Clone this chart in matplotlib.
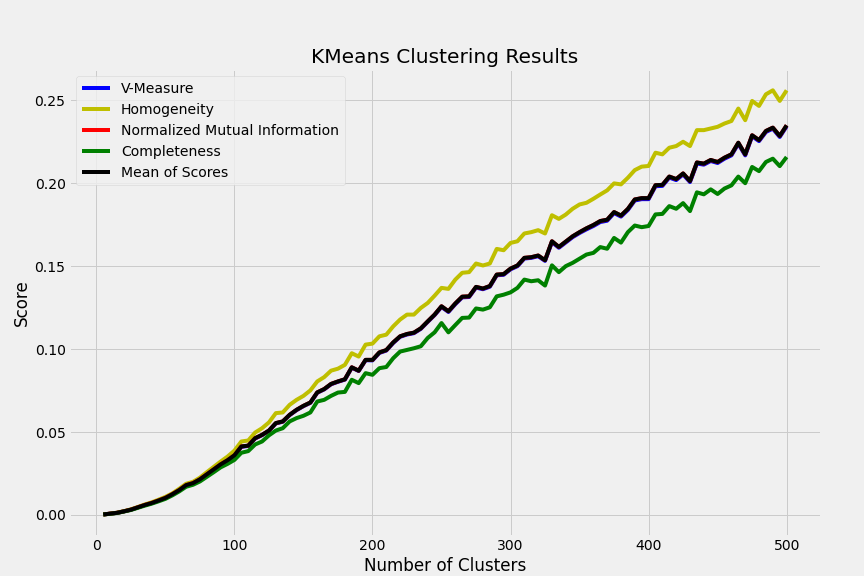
import matplotlib
matplotlib.use("Agg")
import matplotlib.pyplot as plt

# Number of clusters tried (5, 10, ..., 500)
n_clusters = list(range(5, 505, 5))

homogeneity = [
    0.0003, 0.0008, 0.0014, 0.0023, 0.0034, 0.0048, 0.0063, 0.0076, 0.0092, 0.0109,
    0.0130, 0.0158, 0.0188, 0.0200, 0.0225, 0.0258, 0.0290, 0.0322, 0.0352, 0.0388,
    0.0443, 0.0449, 0.0497, 0.0523, 0.0558, 0.0614, 0.0618, 0.0664, 0.0694, 0.0718,
    0.0751, 0.0805, 0.0831, 0.0870, 0.0882, 0.0905, 0.0975, 0.0955, 0.1027, 0.1033,
    0.1077, 0.1087, 0.1137, 0.1178, 0.1208, 0.1208, 0.1248, 0.1278, 0.1322, 0.1369,
    0.1363, 0.1419, 0.1460, 0.1464, 0.1516, 0.1504, 0.1516, 0.1604, 0.1596, 0.1640,
    0.1650, 0.1697, 0.1705, 0.1717, 0.1697, 0.1807, 0.1785, 0.1811, 0.1846, 0.1872,
    0.1882, 0.1906, 0.1932, 0.1957, 0.1999, 0.1993, 0.2033, 0.2079, 0.2100, 0.2104,
    0.2184, 0.2174, 0.2214, 0.2224, 0.2250, 0.2224, 0.2320, 0.2320, 0.2330, 0.2340,
    0.2360, 0.2375, 0.2450, 0.2380, 0.2496, 0.2466, 0.2536, 0.2560, 0.2496, 0.2560,
]

completeness = [
    0.0003, 0.0007, 0.0012, 0.0021, 0.0030, 0.0043, 0.0056, 0.0068, 0.0082, 0.0097,
    0.0118, 0.0142, 0.0170, 0.0182, 0.0202, 0.0230, 0.0258, 0.0287, 0.0308, 0.0332,
    0.0375, 0.0385, 0.0425, 0.0443, 0.0480, 0.0509, 0.0523, 0.0564, 0.0584, 0.0598,
    0.0618, 0.0684, 0.0694, 0.0718, 0.0738, 0.0742, 0.0815, 0.0795, 0.0855, 0.0845,
    0.0885, 0.0892, 0.0945, 0.0985, 0.0995, 0.1005, 0.1017, 0.1067, 0.1101, 0.1157,
    0.1101, 0.1145, 0.1188, 0.1190, 0.1245, 0.1238, 0.1252, 0.1318, 0.1328, 0.1342,
    0.1369, 0.1419, 0.1409, 0.1415, 0.1383, 0.1505, 0.1464, 0.1500, 0.1520, 0.1545,
    0.1570, 0.1580, 0.1615, 0.1605, 0.1670, 0.1642, 0.1705, 0.1745, 0.1735, 0.1742,
    0.1812, 0.1815, 0.1862, 0.1846, 0.1880, 0.1832, 0.1945, 0.1933, 0.1963, 0.1935,
    0.1968, 0.1987, 0.2040, 0.2000, 0.2098, 0.2073, 0.2128, 0.2148, 0.2103, 0.2158,
]

v_measure = [
    0.0003, 0.0008, 0.0013, 0.0022, 0.0032, 0.0046, 0.0060, 0.0072, 0.0087, 0.0102,
    0.0124, 0.0149, 0.0179, 0.0191, 0.0214, 0.0244, 0.0274, 0.0304, 0.0328, 0.0358,
    0.0411, 0.0416, 0.0461, 0.0481, 0.0507, 0.0552, 0.0562, 0.0602, 0.0632, 0.0656,
    0.0676, 0.0737, 0.0757, 0.0788, 0.0803, 0.0816, 0.0888, 0.0868, 0.0933, 0.0932,
    0.0977, 0.0991, 0.1037, 0.1074, 0.1088, 0.1096, 0.1122, 0.1164, 0.1205, 0.1254,
    0.1224, 0.1271, 0.1312, 0.1314, 0.1371, 0.1361, 0.1376, 0.1445, 0.1448, 0.1481,
    0.1500, 0.1546, 0.1550, 0.1560, 0.1532, 0.1645, 0.1611, 0.1643, 0.1675, 0.1700,
    0.1722, 0.1742, 0.1766, 0.1774, 0.1820, 0.1799, 0.1839, 0.1896, 0.1904, 0.1904,
    0.1982, 0.1984, 0.2034, 0.2019, 0.2053, 0.2007, 0.2119, 0.2112, 0.2134, 0.2122,
    0.2148, 0.2168, 0.2238, 0.2168, 0.2283, 0.2254, 0.2309, 0.2329, 0.2279, 0.2343,
]

mean_scores = [
    0.0003, 0.0008, 0.0013, 0.0022, 0.0032, 0.0046, 0.0060, 0.0072, 0.0087, 0.0103,
    0.0125, 0.0150, 0.0180, 0.0192, 0.0215, 0.0245, 0.0275, 0.0305, 0.0330, 0.0360,
    0.0413, 0.0418, 0.0463, 0.0483, 0.0509, 0.0554, 0.0564, 0.0604, 0.0634, 0.0658,
    0.0678, 0.0739, 0.0759, 0.0790, 0.0805, 0.0818, 0.0890, 0.0870, 0.0935, 0.0935,
    0.0980, 0.0994, 0.1040, 0.1077, 0.1091, 0.1099, 0.1125, 0.1167, 0.1208, 0.1258,
    0.1228, 0.1275, 0.1316, 0.1318, 0.1375, 0.1365, 0.1380, 0.1449, 0.1452, 0.1485,
    0.1504, 0.1550, 0.1554, 0.1564, 0.1536, 0.1650, 0.1616, 0.1648, 0.1680, 0.1705,
    0.1728, 0.1748, 0.1772, 0.1780, 0.1826, 0.1805, 0.1845, 0.1902, 0.1910, 0.1910,
    0.1988, 0.1990, 0.2040, 0.2025, 0.2059, 0.2013, 0.2125, 0.2118, 0.2140, 0.2128,
    0.2154, 0.2174, 0.2244, 0.2174, 0.2289, 0.2260, 0.2315, 0.2335, 0.2285, 0.2349,
]

# the red NMI line sits hidden under the black mean line in the chart
nmi = list(mean_scores)

plt.style.use("fivethirtyeight")

fig, ax = plt.subplots(figsize=(12, 8))

ax.plot(n_clusters, v_measure, color="b", label="V-Measure")
ax.plot(n_clusters, homogeneity, color="y", label="Homogeneity")
ax.plot(n_clusters, nmi, color="r", label="Normalized Mutual Information")
ax.plot(n_clusters, completeness, color="g", label="Completeness")
ax.plot(n_clusters, mean_scores, color="k", label="Mean of Scores")

ax.set_title("KMeans Clustering Results")
ax.set_xlabel("Number of Clusters")
ax.set_ylabel("Score")
ax.legend(loc="upper left")

fig.savefig("out.png", dpi=72)
